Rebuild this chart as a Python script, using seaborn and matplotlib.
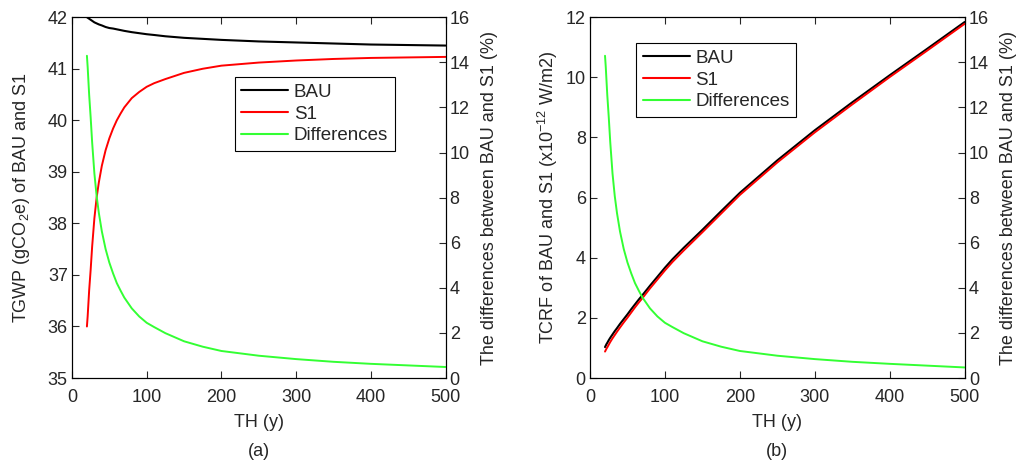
import matplotlib
matplotlib.use("Agg")
import matplotlib.pyplot as plt
import seaborn as sns
import pandas as pd
from matplotlib.lines import Line2D

sns.set_style("ticks")
plt.rcParams['font.family'] = ['Liberation Sans', 'DejaVu Sans']
plt.rcParams['mathtext.fontset'] = 'custom'
plt.rcParams['mathtext.rm'] = 'Liberation Sans'
plt.rcParams['mathtext.it'] = 'Liberation Sans'

# ---------------- data ----------------
th = [20, 21, 22, 23, 25, 27, 30, 33, 36, 40, 45, 50, 55, 60, 65, 70, 80, 90, 100, 110,
      125, 150, 175, 200, 250, 300, 350, 400, 450, 500]

tgwp_bau = [42.0, 41.99, 41.98, 41.97, 41.95, 41.93, 41.9, 41.88, 41.86, 41.84, 41.81, 41.79,
            41.78, 41.765, 41.75, 41.735, 41.71, 41.69, 41.67, 41.655, 41.63, 41.6, 41.58, 41.56,
            41.53, 41.51, 41.49, 41.47, 41.46, 41.45]
tgwp_s1 = [36.0, 36.2, 36.45, 36.7, 37.1, 37.55, 38.1, 38.5, 38.8, 39.12, 39.42, 39.65,
           39.84, 40.0, 40.13, 40.25, 40.43, 40.55, 40.65, 40.72, 40.8, 40.92, 41.0, 41.06,
           41.12, 41.16, 41.19, 41.21, 41.22, 41.23]
diff_a = [14.29, 13.79, 13.17, 12.56, 11.56, 10.45, 9.07, 8.07, 7.31, 6.5, 5.72, 5.12,
          4.64, 4.21, 3.88, 3.57, 3.09, 2.73, 2.45, 2.26, 1.99, 1.63, 1.39, 1.2,
          0.99, 0.84, 0.72, 0.63, 0.56, 0.49]

tcrf_bau = [1.03, 1.08, 1.13, 1.17, 1.26, 1.34, 1.45, 1.56, 1.66, 1.8, 1.96, 2.12,
            2.29, 2.45, 2.61, 2.76, 3.07, 3.37, 3.67, 3.95, 4.33, 4.93, 5.55, 6.16,
            7.24, 8.24, 9.17, 10.07, 10.95, 11.84]
tcrf_s1 = [0.88, 0.93, 0.98, 1.02, 1.11, 1.2, 1.32, 1.43, 1.54, 1.68, 1.85, 2.01,
           2.18, 2.35, 2.51, 2.66, 2.98, 3.28, 3.58, 3.86, 4.24, 4.85, 5.47, 6.09,
           7.17, 8.17, 9.1, 10.01, 10.89, 11.78]
diff_b = [14.29, 13.79, 13.17, 12.56, 11.56, 10.45, 9.07, 8.07, 7.31, 6.5, 5.72, 5.12,
          4.64, 4.21, 3.88, 3.57, 3.09, 2.73, 2.45, 2.26, 1.99, 1.63, 1.39, 1.2,
          0.99, 0.84, 0.72, 0.63, 0.55, 0.47]

series_names = ["BAU", "S1", "Differences"]
colors = ["#000000", "#ff0000", "#33ff33"]

fig = plt.figure(figsize=(10.18, 4.65), dpi=100)
axA = fig.add_axes([0.0707, 0.187, 0.367, 0.776])
axB = fig.add_axes([0.5796, 0.187, 0.368, 0.776])

FS = 13


def panel(ax, bau, s1, diff, ylim, yticks, ylabel, lpad, leg_pos, tag):
    df = pd.DataFrame({"TH": th, "BAU": bau, "S1": s1, "Diff": diff})
    sns.lineplot(data=df, x="TH", y="BAU", ax=ax, color=colors[0], lw=1.5)
    sns.lineplot(data=df, x="TH", y="S1", ax=ax, color=colors[1], lw=1.4)
    ax2 = ax.twinx()
    sns.lineplot(data=df, x="TH", y="Diff", ax=ax2, color=colors[2], lw=1.4)
    ax.set_xlim(0, 500)
    ax.set_xticks([0, 100, 200, 300, 400, 500])
    ax.set_ylim(*ylim)
    ax.set_yticks(yticks)
    ax2.set_ylim(0, 16)
    ax2.set_yticks(range(0, 17, 2))
    ax.set_xlabel("TH (y)", fontsize=FS, labelpad=6)
    ax.set_ylabel(ylabel, fontsize=FS, labelpad=lpad)
    ax2.set_ylabel("The differences between BAU and S1 (%)", fontsize=FS, labelpad=8)
    ax.tick_params(axis='x', direction='in', top=True, length=5, labelsize=FS, pad=8, width=0.8)
    ax.tick_params(axis='y', direction='in', right=False, length=5, labelsize=FS, pad=3, width=0.8)
    ax2.tick_params(axis='y', direction='in', length=5, labelsize=FS, pad=3, width=0.8)
    for a in (ax, ax2):
        for s in a.spines.values():
            s.set_visible(True)
            s.set_linewidth(0.8)
            s.set_color("black")
    handles = [Line2D([0], [0], color=c, lw=1.5) for c in colors]
    leg = ax2.legend(handles, series_names, loc="upper left", bbox_to_anchor=leg_pos,
                     fontsize=13.5, frameon=True, fancybox=False, framealpha=1,
                     edgecolor="black", handlelength=2.5, handletextpad=0.3,
                     borderpad=0.35, labelspacing=0.25, borderaxespad=0)
    leg.get_frame().set_linewidth(0.8)
    pos = ax.get_position()
    fig.text(pos.x0 + pos.width / 2, 0.028, tag, ha="center", va="center", fontsize=FS)


panel(axA, tgwp_bau, tgwp_s1, diff_a, (35, 42), range(35, 43),
      r"TGWP (gCO$_\mathregular{2}$e) of BAU and S1", 11, (0.436, 0.834), "(a)")
panel(axB, tcrf_bau, tcrf_s1, diff_b, (0, 12), range(0, 13, 2),
      r"TCRF of BAU and S1 (x10$^{\mathregular{-12}}$ W/m2)", 4, (0.123, 0.928), "(b)")

fig.savefig("out.png", dpi=100)
